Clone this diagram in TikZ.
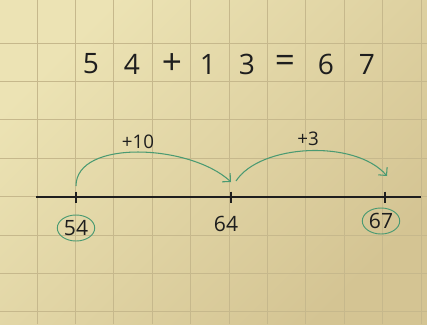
\documentclass[tikz,border=0pt]{standalone}
\usepackage{fontspec}
\setmainfont{Open Sans}
\usetikzlibrary{arrows.meta,shapes.geometric}
\definecolor{paperlight}{HTML}{ECE3B4}
\definecolor{paperdark}{HTML}{D4C493}
\definecolor{gridline}{HTML}{C6B88C}
\definecolor{penink}{HTML}{1E1E1E}
\definecolor{pengreen}{HTML}{4A9A72}

\begin{document}
\begin{tikzpicture}[
  x=0.03cm,y=0.03cm,
  every node/.style={text=penink},
  eqchar/.style={font=\fontsize{24}{26}\selectfont,inner sep=0pt},
  eqsign/.style={font=\fontsize{30}{32}\selectfont,inner sep=0pt},
  numlabel/.style={font=\fontsize{18}{20}\selectfont,inner sep=1pt},
  ringed/.style={numlabel,ellipse,draw=pengreen,line width=0.8pt,minimum width=0.86cm,minimum height=0.78cm},
  jumplabel/.style={font=\fontsize{16}{18}\selectfont,inner sep=1pt},
  jump/.style={-{Straight Barb[length=5pt,width=10pt]},draw=pengreen,line width=0.9pt},
  axisline/.style={draw=penink,line width=1pt},
  tickmark/.style={draw=penink,line width=1.1pt},
  gridrule/.style={draw=gridline,line width=0.7pt},
]
\useasboundingbox (0,0) rectangle (427,324);
% squared paper
\shade[top color=paperlight,bottom color=paperdark,shading angle=45] (0,0) rectangle (427,324);
\foreach \gx in {0,...,10}
  \draw[gridrule] ({37+38.4*\gx},0) -- ({37+38.4*\gx},324);
\foreach \gy in {0,...,7}
  \draw[gridrule] (0,{281-38.4*\gy}) -- (427,{281-38.4*\gy});

% the sum
\foreach \x/\ch/\sty [count=\i] in {91/5/eqchar,132/4/eqchar,172/+/eqsign,208/1/eqchar,
    247/3/eqchar,285/=/eqsign,326/6/eqchar,367/7/eqchar}
  \node[\sty] (eq\i) at (\x,260) {\ch};

% number line
\coordinate (lineL) at (36,127);
\coordinate (lineR) at (421,127);
\draw[axisline] (lineL) -- (lineR);
\foreach \v/\x in {54/76,64/231,67/385}{
  \coordinate (t\v) at (\x,127);
  \draw[tickmark] ([yshift=0.16cm]t\v) -- ([yshift=-0.17cm]t\v);
}
\node[ringed] (n54) at (76,96) {54};
\node[numlabel] (n64) at (226,100) {64};
\node[ringed] (n67) at (381,103) {67};

% jumps
\coordinate (a54) at (76,138);
\coordinate (a64in) at (231,142);
\coordinate (a64out) at (236,143);
\coordinate (a67) at (387,148);
\draw[jump] (a54) .. controls (76,185) and (190,180) .. (a64in);
\draw[jump] (a64out) .. controls (260,180) and (355,185) .. (a67);
\node[jumplabel] (j10) at (138,182) {+10};
\node[jumplabel] (j3) at (308,185) {+3};
\end{tikzpicture}
\end{document}
